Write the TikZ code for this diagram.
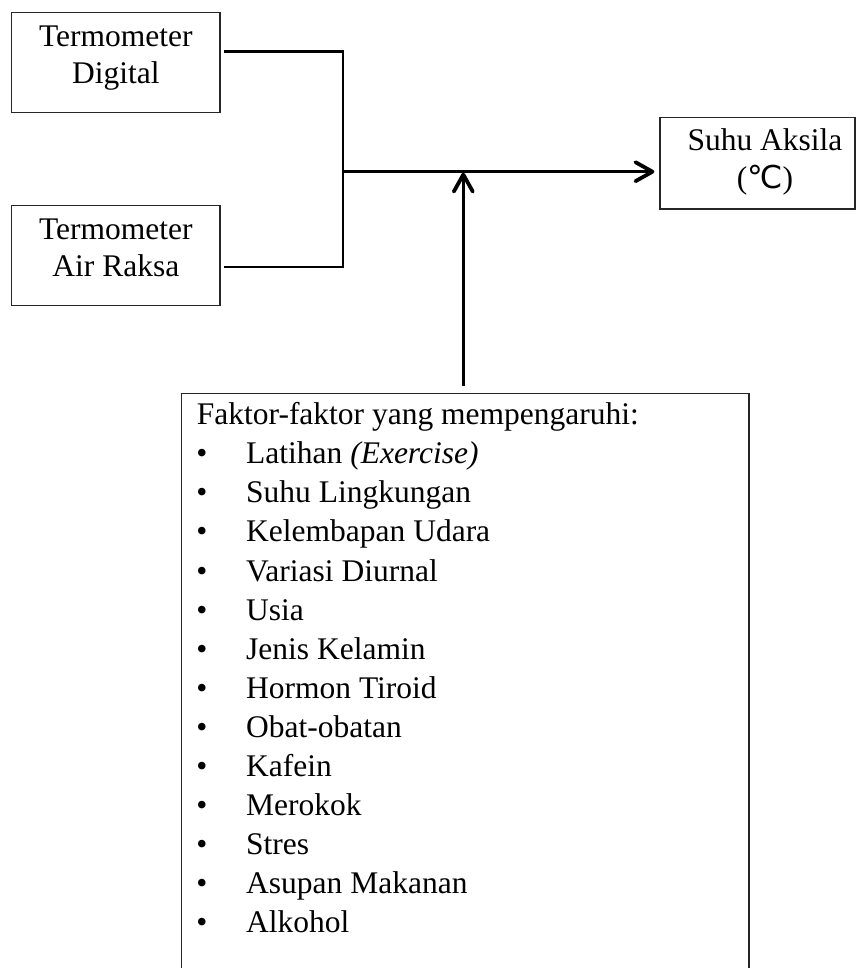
\documentclass[tikz,border=0pt]{standalone}
\usepackage{fontspec}
\setmainfont{Liberation Serif}
\newfontfamily\symfont{DejaVu Sans}
\usetikzlibrary{arrows.meta}
\begin{document}
\begin{tikzpicture}[x=1pt,y=-1pt,
  box/.style={draw=black!85, line width=1.3pt, inner sep=0pt},
  txt/.style={inner sep=0pt, font=\fontsize{31.5}{36.7}\selectfont},
  conn/.style={line width=2.4pt},
  arr/.style={line width=2.4pt, -{Straight Barb[length=17pt,width=19pt,line width=3.8pt,round]}}]
\useasboundingbox (0,0) rectangle (857,968);
% left boxes
\node[box, txt, minimum width=208.3pt, minimum height=100pt, align=center] (d1) at (115.85,62.7)
  {\rule{0pt}{24pt}Termometer\\Digital\rule[-19.4pt]{0pt}{19.4pt}};
\node[box, txt, minimum width=208.3pt, minimum height=100pt, align=center] (d2) at (115.85,255.7)
  {\rule{0pt}{24pt}Termometer\\Air Raksa\rule[-19.4pt]{0pt}{19.4pt}};
% right box
\node[box, txt, font=\fontsize{31.5}{38.3}\selectfont, minimum width=195pt, minimum height=91.7pt, align=center] (s) at (757.5,163.2)
  {\hspace*{15pt}\rule{0pt}{30pt}Suhu Aksila\\\hspace*{15pt}({\symfont ℃})\rule[-16.7pt]{0pt}{16.7pt}};
% bottom box
\node[box, minimum width=567.3pt, minimum height=620pt, anchor=north west] (f) at (181,392.7) {};
\node[txt, anchor=base west] (fh) at (196.7,424) {Faktor-faktor yang mempengaruhi:};
\foreach \t [count=\i] in {Latihan \textit{(Exercise)}, Suhu Lingkungan, Kelembapan Udara, Variasi Diurnal, Usia, Jenis Kelamin, Hormon Tiroid, Obat-obatan, Kafein, Merokok, Stres, Asupan Makanan, Alkohol}{
  \node[txt, anchor=base] (b\i) at (202,{463.7+39.1*(\i-1)}) {•};
  \node[txt, anchor=base west] (t\i) at (246,{463.7+39.1*(\i-1)}) {\t};
}
% connectors
\coordinate (j1) at (343,51.7);
\coordinate (j2) at (343,266.7);
\coordinate (jm) at (343,171.7);
\coordinate (fa) at (463.3,386);
\draw[conn, shorten <=3.4pt, shorten >=3.4pt] (d1.east |- j1) -- (j1) -- (j2) -- (d2.east |- j2);
\draw[arr, shorten >=5pt] (jm) -- (jm -| s.west);
\draw[arr, shorten >=1pt] (fa) -- (fa |- jm);
\end{tikzpicture}
\end{document}
